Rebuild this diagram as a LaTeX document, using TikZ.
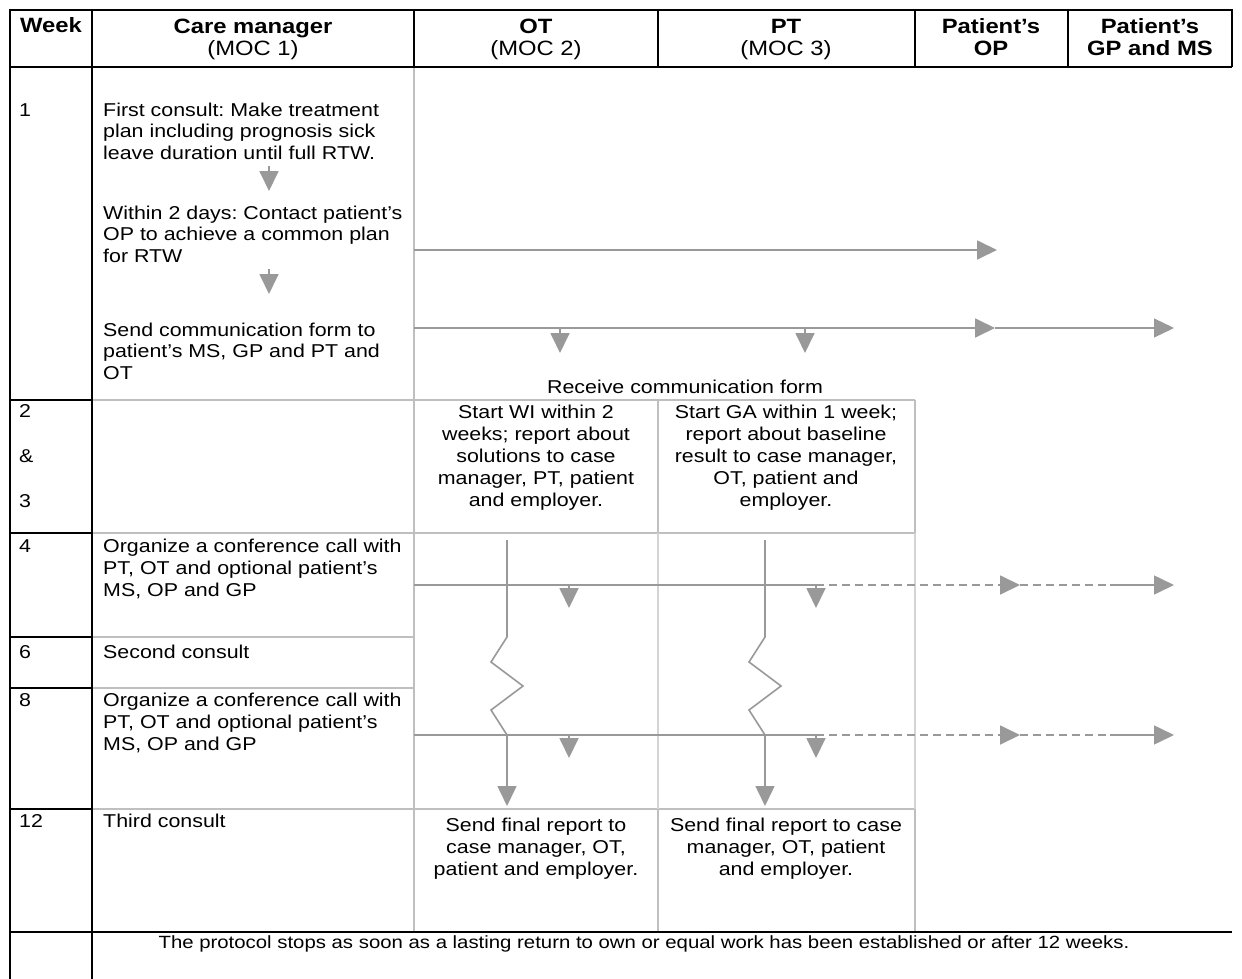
\documentclass[tikz,border=0pt]{standalone}
\usepackage{fontspec}
\setmainfont[FakeStretch=1.15]{Liberation Sans}
\usetikzlibrary{arrows.meta}
\definecolor{arrgray}{HTML}{999999}
\definecolor{linegray}{HTML}{BFBFBF}
\definecolor{lightline}{HTML}{D4D4D4}
\frenchspacing
\begin{document}
\frenchspacing
\begin{tikzpicture}[x=1pt,y=-1pt,
  txt/.style={inner sep=0pt, font=\frenchspacing\fontsize{18.6}{22}\selectfont},
  txtA/.style={inner sep=0pt, font=\frenchspacing\fontsize{18.6}{21.5}\selectfont},
  hdr/.style={inner sep=0pt, font=\bfseries\fontsize{20.7}{22.5}\selectfont, align=center, anchor=north},
  blk/.style={line width=2pt, black},
  gry/.style={line width=1.5pt, linegray},
  lgry/.style={line width=1.2pt, lightline},
  ln/.style={line width=1.8pt, arrgray},
  arr/.style={line width=1.8pt, arrgray, -{Triangle[length=20pt,width=19pt]}},
  dsh/.style={dash pattern=on 8pt off 5pt},
  zig/.style={line width=1.6pt, arrgray, line join=miter, -{Triangle[length=20pt,width=19pt]}}
]
\useasboundingbox (0,0) rectangle (1242,979);
\fill[white] (0,0) rectangle (1242,979);

% ---------- grid lines (gray) ----------
\draw[gry] (414,67) -- (414,932);
\draw[gry] (92,400) -- (915,400);
\draw[gry] (92,533) -- (915,533);
\draw[gry] (92,637) -- (414,637);
\draw[gry] (92,688) -- (414,688);
\draw[gry] (92,809) -- (915,809);
\draw[gry] (658,400) -- (658,533);
\draw[lgry] (658,533) -- (658,809);
\draw[gry] (658,809) -- (658,932);
\draw[gry] (915,400) -- (915,533);
\draw[lgry] (915,533) -- (915,809);
\draw[gry] (915,809) -- (915,932);

% ---------- black lines ----------
\draw[blk] (10,10) -- (1232,10);
\draw[blk] (10,67) -- (1232,67);
\draw[blk] (10,932) -- (1232,932);
\draw[blk] (10,9) -- (10,979);
\draw[blk] (92,9) -- (92,979);
\foreach \xx in {414,658,915,1068,1232} \draw[blk] (\xx,9) -- (\xx,67);
\foreach \yy in {400,533,637,688,809} \draw[blk] (10,\yy) -- (92,\yy);

% ---------- header ----------
\node[inner sep=0pt, font=\bfseries\fontsize{20.7}{22.5}\selectfont, anchor=base] (hWeek) at (51,33) {Week};
\node[hdr] (hCM) at (253,17.25) {\strut Care manager\\{\mdseries (MOC 1)}};
\node[hdr] (hOT) at (536,17.25) {\strut OT\\{\mdseries (MOC 2)}};
\node[hdr] (hPT) at (786,17.25) {\strut PT\\{\mdseries (MOC 3)}};
\node[hdr] (hOP) at (991,17.25) {\strut Patient’s\\OP};
\node[hdr] (hGP) at (1150,17.25) {\strut Patient’s\\GP and MS};

% ---------- week column ----------
\node[txt, anchor=base west] (w1) at (19,117) {1};
\node[txt, anchor=base west] (w2) at (19,417) {2};
\node[txt, anchor=base west] (wamp) at (19,462) {\&};
\node[txt, anchor=base west] (w3) at (19,507) {3};
\node[txt, anchor=base west] (w4) at (19,552) {4};
\node[txt, anchor=base west] (w6) at (19,658) {6};
\node[txt, anchor=base west] (w8) at (19,706) {8};
\node[txt, anchor=base west] (w12) at (19,827) {12};

% ---------- care manager column ----------
\node[txtA, anchor=north west, align=left] (c1) at (103,100.95)
  {\strut First consult: Make treatment\\plan including prognosis sick\\leave duration until full RTW.};
\node[txtA, anchor=north west, align=left] (c2) at (103,203.95)
  {\strut Within 2 days: Contact patient’s\\OP to achieve a common plan\\for RTW};
\node[txtA, anchor=north west, align=left] (c3) at (103,320.95)
  {\strut Send communication form to\\patient’s MS, GP and PT and\\OT};
\node[txt, anchor=north west, align=left] (c4) at (103,536.6)
  {\strut Organize a conference call with\\PT, OT and optional patient’s\\MS, OP and GP};
\node[txt, anchor=base west] (c6) at (103,658) {Second consult};
\node[txt, anchor=north west, align=left] (c8) at (103,690.6)
  {\strut Organize a conference call with\\PT, OT and optional patient’s\\MS, OP and GP};
\node[txt, anchor=base west] (c12) at (103,827) {Third consult};

% ---------- OT / PT cells ----------
\node[txt, anchor=base] (recv) at (685,393) {Receive communication form};
\node[txt, anchor=north, align=center] (ot23) at (536,402.6)
  {\strut Start WI within 2\\weeks; report about\\solutions to case\\manager, PT, patient\\and employer.};
\node[txt, anchor=north, align=center] (pt23) at (786,402.6)
  {\strut Start GA within 1 week;\\report about baseline\\result to case manager,\\OT, patient and\\employer.};
\node[txt, anchor=north, align=center] (ot12) at (536,815.6)
  {\strut Send final report to\\case manager, OT,\\patient and employer.};
\node[txt, anchor=north, align=center] (pt12) at (786,815.6)
  {\strut Send final report to case\\manager, OT, patient\\and employer.};

% ---------- bottom row ----------
\node[inner sep=0pt, font=\fontsize{17.7}{22}\selectfont, anchor=base] (stop) at (644,948)
  {The protocol stops as soon as a lasting return to own or equal work has been established or after 12 weeks.};

% ---------- care manager internal arrows ----------
\coordinate (ca1s) at (269,166); \coordinate (ca1e) at (269,191);
\coordinate (ca2s) at (269,269); \coordinate (ca2e) at (269,294);
\draw[arr] (ca1s) -- (ca1e);
\draw[arr] (ca2s) -- (ca2e);

% ---------- week 1 arrows ----------
\coordinate (a1s) at (414,250); \coordinate (a1e) at (997,250);
\draw[arr] (a1s) -- (a1e);
\coordinate (a2s) at (414,328); \coordinate (a2m) at (995,328); \coordinate (a2e) at (1174,328);
\draw[arr] (a2s) -- (a2m);
\draw[arr, line width=1.2pt] (a2m) -- (a2e);
\coordinate (d1s) at (560,328); \coordinate (d1e) at (560,353);
\coordinate (d2s) at (805,328); \coordinate (d2e) at (805,353);
\draw[arr] (d1s) -- (d1e);
\draw[arr] (d2s) -- (d2e);

% ---------- conference call arrows (week 4 and 8) ----------
\foreach \yy/\nm in {585/f, 735/g} {
  \coordinate (\nm s) at (414,\yy);
  \coordinate (\nm m) at (816,\yy);
  \coordinate (\nm op) at (1020,\yy);
  \coordinate (\nm k) at (1110,\yy);
  \coordinate (\nm gp) at (1174,\yy);
  \draw[ln] (\nm s) -- (\nm m);
  \draw[arr, dsh] (\nm m) -- (\nm op);
  \draw[ln, dsh] (\nm op) -- (\nm k);
  \draw[arr, line width=1.5pt] (\nm k) -- (\nm gp);
  \coordinate (\nm ots) at (569,\yy); \coordinate (\nm ote) at (569,\yy+23);
  \coordinate (\nm pts) at (816,\yy); \coordinate (\nm pte) at (816,\yy+23);
  \draw[arr] (\nm ots) -- (\nm ote);
  \draw[arr] (\nm pts) -- (\nm pte);
}

% ---------- long vertical arrows with zigzag ----------
\coordinate (vOs) at (507,540); \coordinate (vOe) at (507,806);
\coordinate (vPs) at (765,540); \coordinate (vPe) at (765,806);
\draw[zig] (vOs) -- (507,637) -- (491,662) -- (523,686) -- (491,710) -- (507,735) -- (vOe);
\draw[zig] (vPs) -- (765,637) -- (749,662) -- (781,686) -- (749,710) -- (765,735) -- (vPe);

\end{tikzpicture}
\end{document}
